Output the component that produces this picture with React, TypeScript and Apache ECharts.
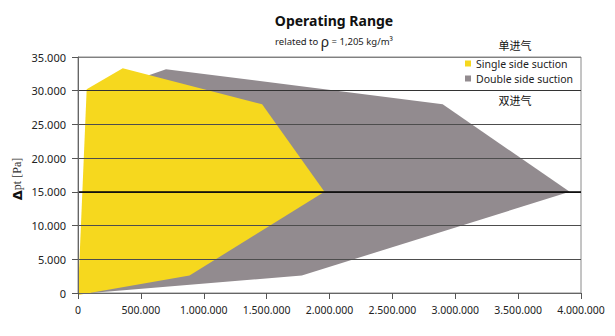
import React, { useEffect, useRef } from "react";
import * as echarts from "echarts";

// Single side suction polygon (flow [m³/h], Δpt [Pa])
const singleX = [0, 69000, 356000, 1464000, 1960000, 887000];
const singleY = [-300, 30200, 33320, 27980, 15000, 2600];

// Double side suction polygon
const doubleX = [100000, 500000, 700000, 2900000, 3910000, 1780000];
const doubleY = [0, 31900, 33200, 28000, 15000, 2600];

const xTicks = { min: 0, max: 4000000, interval: 500000 };
const yTicks = { min: 0, max: 35000, interval: 5000 };

const seriesNames = ["Single side suction", "Double side suction"];
const seriesColors = ["#F6D81E", "#928B8F"];

const fmt = (n: number) =>
  String(Math.round(n)).replace(/\B(?=(\d{3})+(?!\d))/g, ".");

const FONT = "'Noto Sans', 'Open Sans', sans-serif";

function polySeries(name: string, xs: number[], ys: number[], color: string, z: number, extra: any = {}) {
  return {
    type: "custom",
    name,
    z,
    clip: false,
    itemStyle: { color },
    encode: { x: 0, y: 1 },
    data: xs.map((x, i) => [x, ys[i]]),
    renderItem: (params: any, api: any) => {
      if (params.dataIndex !== 0) return null;
      const pts = xs.map((x, i) => api.coord([x, ys[i]]));
      return {
        type: "polygon",
        shape: { points: pts },
        style: { fill: color },
      };
    },
    ...extra,
  };
}

export default function App() {
  const ref = useRef<HTMLDivElement>(null);
  useEffect(() => {
    if (!ref.current) return;
    const chart = echarts.init(ref.current, null, { renderer: "svg" });
    chart.setOption({
      animation: false,
      textStyle: { fontFamily: FONT },
      grid: {
        left: 78,
        right: 34,
        top: 57,
        bottom: 43,
        show: true,
        borderColor: "#8a8a8a",
        borderWidth: 1,
        backgroundColor: "transparent",
      },
      legend: {
        orient: "vertical",
        left: 465,
        top: 58,
        itemWidth: 6,
        itemHeight: 6,
        itemGap: 4,
        padding: 0,
        icon: "rect",
        data: seriesNames,
        textStyle: { fontSize: 10.5, color: "#222", fontFamily: FONT },
      },
      xAxis: {
        type: "value",
        z: 10,
        min: xTicks.min,
        max: xTicks.max,
        interval: xTicks.interval,
        axisLine: { show: true, onZero: false, lineStyle: { color: "#666", width: 1 } },
        axisTick: { show: true, length: 6, lineStyle: { color: "#555" } },
        axisLabel: { color: "#222", fontSize: 10.5, margin: 11, formatter: (v: number) => fmt(v) },
        splitLine: { show: false },
      },
      yAxis: {
        type: "value",
        z: 10,
        min: yTicks.min,
        max: yTicks.max,
        interval: yTicks.interval,
        axisLine: { show: true, lineStyle: { color: "#666", width: 1 } },
        axisTick: { show: true, length: 6, lineStyle: { color: "#555" } },
        axisLabel: { color: "#222", fontSize: 11, margin: 12, formatter: (v: number) => fmt(v) },
        splitLine: {
          show: true,
          lineStyle: {
            width: 1,
            color: ["#666", "#4d4d4d", "#4d4d4d", "#111", "#4d4d4d", "#4d4d4d", "#333", "#808080"],
          },
        },
      },
      series: [
        polySeries(seriesNames[1], doubleX, doubleY, seriesColors[1], 2),
        polySeries(seriesNames[0], singleX, singleY, seriesColors[0], 3, {
          markLine: {
            silent: true,
            symbol: "none",
            label: { show: false },
            lineStyle: { color: "#000", width: 1.6, type: "solid" },
            data: [{ yAxis: 15000 }],
          },
        }),
      ],
      graphic: [
        {
          type: "text",
          x: 334,
          y: 20,
          style: {
            text: "Operating Range",
            font: `bold 14px ${FONT}`,
            fill: "#111",
            align: "center",
            verticalAlign: "middle",
          },
        },
        {
          type: "text",
          x: 334,
          y: 41,
          style: {
            text: "{a|related to }{r|ρ}{a| = 1,205 kg/m³}",
            align: "center",
            verticalAlign: "middle",
            rich: {
              a: { fontSize: 9.5, fontFamily: FONT, fill: "#222" },
              r: { fontSize: 14, fontFamily: FONT, fill: "#222" },
            } as any,
          },
        },
        {
          type: "text",
          x: 515,
          y: 45,
          style: {
            text: "单进气",
            font: "11px 'Noto Sans CJK SC'",
            fill: "#111",
            align: "center",
            verticalAlign: "middle",
          },
        },
        {
          type: "text",
          x: 515,
          y: 100,
          z: 20,
          style: {
            text: "双进气",
            font: "11px 'Noto Sans CJK SC'",
            fill: "#111",
            align: "center",
            verticalAlign: "middle",
          },
        },
        {
          type: "text",
          x: 17,
          y: 179,
          rotation: Math.PI / 2,
          style: {
            text: "{a|Δ}{b|pt [Pa]}",
            align: "center",
            verticalAlign: "middle",
            rich: {
              a: { fontSize: 13, fontWeight: "bold", fontFamily: "'DejaVu Sans'", fill: "#111" },
              b: { fontSize: 12, fontFamily: "'Liberation Serif', 'DejaVu Serif', serif", fill: "#333" },
            } as any,
          },
        },
      ],
    });
    return () => chart.dispose();
  }, []);
  return (
    <div
      ref={ref}
      style={{ position: "fixed", left: 0, top: 0, width: 615, height: 336, background: "#fff" }}
    />
  );
}
